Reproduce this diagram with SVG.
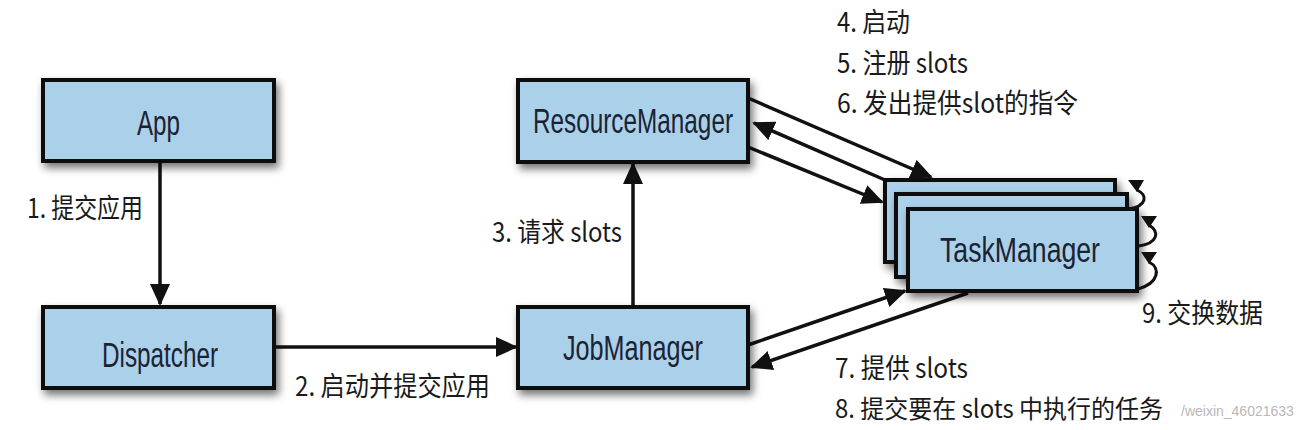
<svg xmlns="http://www.w3.org/2000/svg" width="1303" height="430" viewBox="0 0 1303 430">
<style>
.box{fill:#abd0ea;stroke:#111;stroke-width:4}
.nt{font-family:"Liberation Sans Narrow","Liberation Sans",sans-serif;font-size:35px;fill:#1b2333}
.lb{font-family:"Liberation Sans Narrow","Noto Sans CJK SC",sans-serif;font-size:27px;fill:#1a1a1a}
.ln{stroke:#111;stroke-width:3.5;fill:none}
.lp{stroke:#111;stroke-width:3;fill:none}
.wm{font-family:"Liberation Sans",sans-serif;font-size:14px;fill:#b8b8b8}
</style>
<defs>
<filter id="sh" x="-20%" y="-20%" width="150%" height="160%">
<feGaussianBlur in="SourceAlpha" stdDeviation="4"/>
<feOffset dx="3" dy="5" result="b"/>
<feComponentTransfer><feFuncA type="linear" slope="0.55"/></feComponentTransfer>
<feMerge><feMergeNode/><feMergeNode in="SourceGraphic"/></feMerge>
</filter>
<marker id="ah" markerUnits="userSpaceOnUse" markerWidth="22" markerHeight="20" refX="20" refY="10" orient="auto">
<path d="M0,0 L22,10 L0,20 z" fill="#111"/>
</marker>
</defs>
<rect width="1303" height="430" fill="#fff"/>
<text class="wm" x="1181" y="416">/weixin_46021633</text>
<g id="connectors">
<line class="ln" x1="160" y1="162" x2="160" y2="304" marker-end="url(#ah)"/>
<line class="ln" x1="274" y1="347" x2="516" y2="347" marker-end="url(#ah)"/>
<line class="ln" x1="633" y1="307" x2="633" y2="164" marker-end="url(#ah)"/>
<line class="ln" x1="748" y1="98" x2="931" y2="177" marker-end="url(#ah)"/>
<line class="ln" x1="885" y1="180" x2="754" y2="123" marker-end="url(#ah)"/>
<line class="ln" x1="748" y1="147" x2="882" y2="202" marker-end="url(#ah)"/>
<line class="ln" x1="748" y1="345" x2="905" y2="291" marker-end="url(#ah)"/>
<line class="ln" x1="968" y1="293" x2="752" y2="367" marker-end="url(#ah)"/>
</g>
<g id="App"><rect class="box" x="43" y="80" width="231" height="81" filter="url(#sh)"/><text class="nt" x="137" y="135" textLength="43" lengthAdjust="spacingAndGlyphs">App</text></g>
<g id="Dispatcher"><rect class="box" x="43" y="307" width="231" height="81" filter="url(#sh)"/><text class="nt" x="102" y="367" textLength="116" lengthAdjust="spacingAndGlyphs">Dispatcher</text></g>
<g id="ResourceManager"><rect class="box" x="518" y="80" width="230" height="82" filter="url(#sh)"/><text class="nt" x="533" y="133" textLength="200" lengthAdjust="spacingAndGlyphs">ResourceManager</text></g>
<g id="JobManager"><rect class="box" x="518" y="307" width="230" height="81" filter="url(#sh)"/><text class="nt" x="563" y="360" textLength="140" lengthAdjust="spacingAndGlyphs">JobManager</text></g>
<g id="TaskManager">
<rect class="box" x="885" y="180" width="230" height="82" filter="url(#sh)"/>
<rect class="box" x="896" y="194" width="231" height="83" filter="url(#sh)"/>
<rect class="box" x="908" y="209" width="229" height="82" filter="url(#sh)"/>
<text class="nt" x="940" y="262" textLength="160" lengthAdjust="spacingAndGlyphs">TaskManager</text>
</g>
<g id="loops">
<path class="lp" d="M1137,190 C1148,195 1147,206 1129,209"/>
<polygon points="1128,180 1144,180 1137,192" fill="#111"/>
<path class="lp" d="M1149,225 C1160,232 1158,243 1139,246"/>
<polygon points="1141,216 1157,216 1149,228" fill="#111"/>
<path class="lp" d="M1149,262 C1161,268 1159,283 1138,289"/>
<polygon points="1141,252 1157,252 1149,264" fill="#111"/>
</g>
<g id="labels">
<text class="lb" x="27" y="218" textLength="116" lengthAdjust="spacingAndGlyphs">1. 提交应用</text>
<text class="lb" x="295" y="396" textLength="195" lengthAdjust="spacingAndGlyphs">2. 启动并提交应用</text>
<text class="lb" x="492" y="242" textLength="130" lengthAdjust="spacingAndGlyphs">3. 请求 slots</text>
<text class="lb" x="837" y="32" textLength="73" lengthAdjust="spacingAndGlyphs">4. 启动</text>
<text class="lb" x="837" y="73" textLength="131" lengthAdjust="spacingAndGlyphs">5. 注册 slots</text>
<text class="lb" x="837" y="113" textLength="241" lengthAdjust="spacingAndGlyphs">6. 发出提供slot的指令</text>
<text class="lb" x="835" y="378" textLength="133" lengthAdjust="spacingAndGlyphs">7. 提供 slots</text>
<text class="lb" x="835" y="418" style="font-size:25px" textLength="328" lengthAdjust="spacingAndGlyphs">8. 提交要在 slots 中执行的任务</text>
<text class="lb" x="1142" y="323" textLength="121" lengthAdjust="spacingAndGlyphs">9. 交换数据</text>
</g>
</svg>
